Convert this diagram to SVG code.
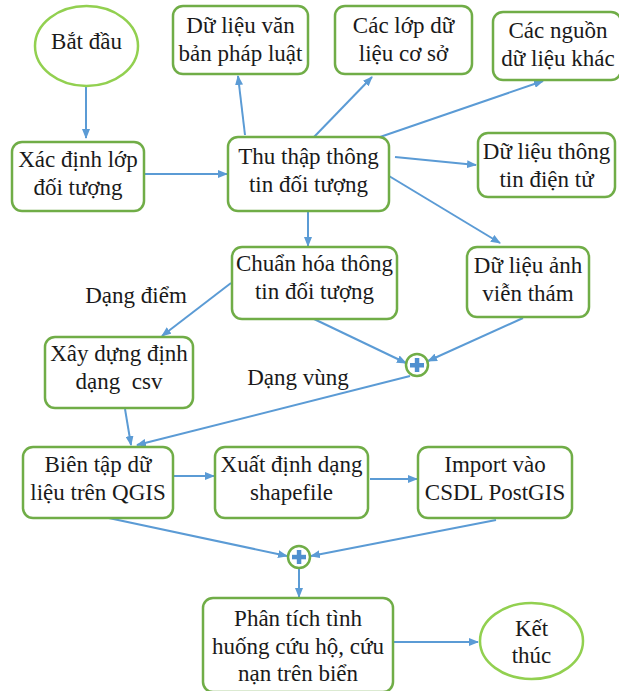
<svg xmlns="http://www.w3.org/2000/svg" width="619" height="691" viewBox="0 0 619 691">
<defs>
<marker id="ah" markerWidth="10" markerHeight="8" refX="9" refY="4" orient="auto" markerUnits="userSpaceOnUse">
<path d="M0,0 L10,4 L0,8 Z" fill="#5b9bd5"/>
</marker>
</defs>
<style>
.box{fill:#fff;stroke:#70ad47;stroke-width:2.5}
.ell{fill:#fff;stroke:#92d050;stroke-width:2.5}
.mc{fill:#fff;stroke:#70ad47;stroke-width:2.5}
.plus{fill:#4f8fcf}
.lbl{fill:#1a1a1a}
</style>
<rect width="619" height="691" fill="#fff"/>
<g id="connectors" fill="none" stroke="#5b9bd5" stroke-width="2" marker-end="url(#ah)">
<line x1="86" y1="86" x2="86" y2="138"/>
<line x1="144" y1="174" x2="227" y2="174"/>
<line x1="245" y1="135" x2="238" y2="76"/>
<line x1="314" y1="137" x2="372" y2="77"/>
<line x1="380" y1="137" x2="543" y2="81"/>
<line x1="395" y1="157" x2="476" y2="165"/>
<line x1="389" y1="176" x2="500" y2="243"/>
<line x1="308" y1="211" x2="308" y2="246"/>
<line x1="231" y1="283" x2="162" y2="336"/>
<line x1="314" y1="319" x2="406" y2="363"/>
<line x1="523" y1="318" x2="428" y2="361"/>
<line x1="410" y1="376" x2="137" y2="445"/>
<line x1="125" y1="409" x2="131" y2="445"/>
<line x1="168" y1="476" x2="214" y2="476"/>
<line x1="370" y1="479" x2="417" y2="479"/>
<line x1="104" y1="517" x2="287" y2="556"/>
<line x1="496" y1="520" x2="311" y2="556"/>
<line x1="299" y1="569" x2="299" y2="597"/>
<line x1="394" y1="642" x2="478" y2="642"/>
</g>
<g font-family="Liberation Serif" font-size="23" text-anchor="middle">
<g id="start" class="lbl">
<ellipse class="ell" cx="86.5" cy="46" rx="51.5" ry="40"/>
<text x="86.5" y="49">Bắt đầu</text>
</g>
<g id="vanban" class="lbl">
<rect class="box" x="173" y="6" width="135" height="68" rx="10"/>
<text x="240.5" y="33">Dữ liệu văn</text>
<text x="240.5" y="61">bản pháp luật</text>
</g>
<g id="coso" class="lbl">
<rect class="box" x="335" y="6" width="137" height="68" rx="10"/>
<text x="403.5" y="33">Các lớp dữ</text>
<text x="403.5" y="61">liệu cơ sở</text>
</g>
<g id="nguonkhac" class="lbl">
<rect class="box" x="493" y="12" width="128" height="68" rx="10"/>
<text x="558" y="38">Các nguồn</text>
<text x="558" y="66">dữ liệu khác</text>
</g>
<g id="xacdinh" class="lbl">
<rect class="box" x="12" y="142" width="132" height="69" rx="10"/>
<text x="78" y="167">Xác định lớp</text>
<text x="78" y="195">đối tượng</text>
</g>
<g id="thuthap" class="lbl">
<rect class="box" x="228" y="137" width="161" height="74" rx="10"/>
<text x="308.5" y="164">Thu thập thông</text>
<text x="308.5" y="192">tin đối tượng</text>
</g>
<g id="dientu" class="lbl">
<rect class="box" x="478" y="133" width="137" height="64" rx="10"/>
<text x="546.5" y="159">Dữ liệu thông</text>
<text x="546.5" y="187">tin điện tử</text>
</g>
<g id="chuanhoa" class="lbl">
<rect class="box" x="232" y="247" width="165" height="72" rx="10"/>
<text x="314.5" y="271">Chuẩn hóa thông</text>
<text x="314.5" y="299">tin đối tượng</text>
</g>
<g id="anhvientham" class="lbl">
<rect class="box" x="467" y="247" width="122" height="70" rx="10"/>
<text x="528" y="273">Dữ liệu ảnh</text>
<text x="528" y="301">viễn thám</text>
</g>
<g id="lbl-diem" class="lbl">
<text x="136" y="303">Dạng điểm</text>
</g>
<g id="merge1">
<circle class="mc" cx="417" cy="365" r="11"/>
<rect class="plus" x="410" y="363" width="14" height="4.5"/>
<rect class="plus" x="414.8" y="358" width="4.5" height="14"/>
</g>
<g id="xaydung" class="lbl">
<rect class="box" x="45" y="337" width="148" height="71" rx="10"/>
<text x="119" y="361">Xây dựng định</text>
<text x="119" y="389" xml:space="preserve">dạng  csv</text>
</g>
<g id="lbl-vung" class="lbl">
<text x="298" y="385">Dạng vùng</text>
</g>
<g id="bientap" class="lbl">
<rect class="box" x="23" y="447" width="150" height="71" rx="10"/>
<text x="98" y="472">Biên tập dữ</text>
<text x="98" y="500">liệu trên QGIS</text>
</g>
<g id="xuat" class="lbl">
<rect class="box" x="215" y="447" width="153" height="71" rx="10"/>
<text x="291.5" y="472">Xuất định dạng</text>
<text x="291.5" y="500">shapefile</text>
</g>
<g id="import" class="lbl">
<rect class="box" x="418" y="447" width="154" height="71" rx="10"/>
<text x="495" y="472">Import vào</text>
<text x="495" y="500">CSDL PostGIS</text>
</g>
<g id="merge2">
<circle class="mc" cx="299" cy="557" r="11"/>
<rect class="plus" x="292" y="554.8" width="14" height="4.5"/>
<rect class="plus" x="296.8" y="550" width="4.5" height="14"/>
</g>
<g id="phantich" class="lbl">
<rect class="box" x="203" y="598" width="190" height="94" rx="10"/>
<text x="298" y="626">Phân tích tình</text>
<text x="298" y="654">huống cứu hộ, cứu</text>
<text x="298" y="681">nạn trên biển</text>
</g>
<g id="end" class="lbl">
<ellipse class="ell" cx="531.5" cy="641" rx="51.5" ry="38"/>
<text x="531.5" y="636">Kết</text>
<text x="531.5" y="663">thúc</text>
</g>
</g>
</svg>
